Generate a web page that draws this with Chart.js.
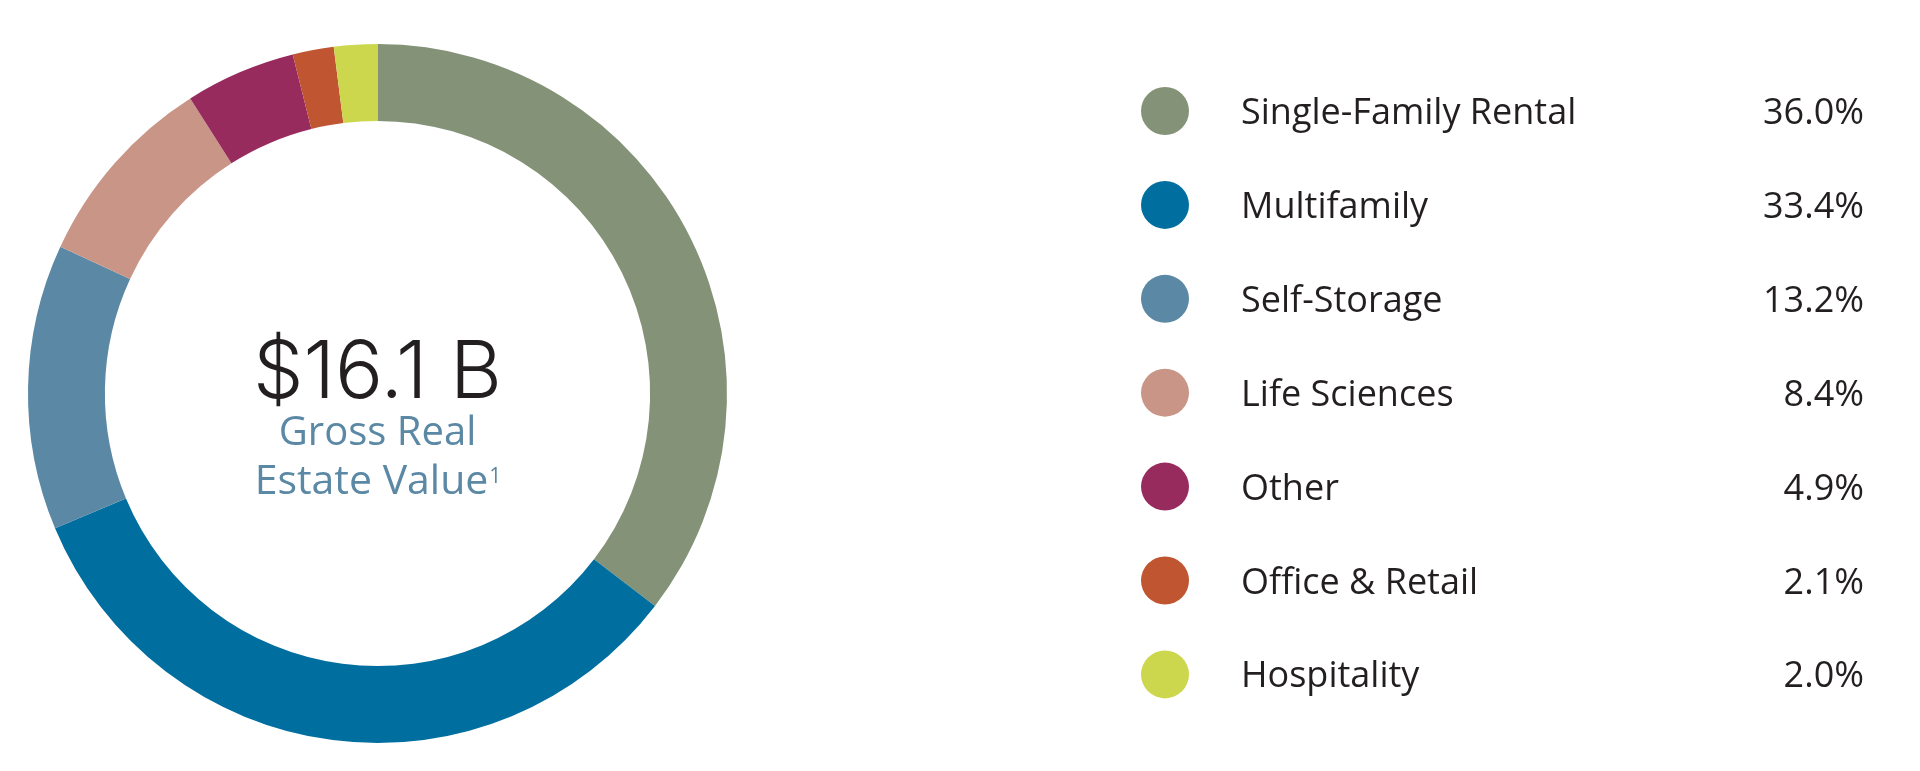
<!DOCTYPE html>
<html>
<head>
<meta charset="utf-8">
<script src="https://cdn.jsdelivr.net/npm/chart.js"></script>
<style>
  html, body { margin: 0; padding: 0; background: #fff; }
  #wrap { width: 1920px; height: 771px; position: relative; }
</style>
</head>
<body>
<div id="wrap"><canvas id="myChart"></canvas></div>
<script>
// chart data
var categories = ['Single-Family Rental', 'Multifamily', 'Self-Storage', 'Life Sciences', 'Other', 'Office & Retail', 'Hospitality'];
// percentages printed in the legend
var shareLabels = ['36.0%', '33.4%', '13.2%', '8.4%', '4.9%', '2.1%', '2.0%'];
var sliceValues = [35.4, 33.3, 13.2, 9.1, 5.1, 1.9, 2.0];
var sliceColors = ['#849277', '#006e9e', '#5b88a4', '#c89587', '#982b5e', '#bf5531', '#ccd74d'];
var centerValue = '$16.1 B';
var centerLabel = ['Gross Real', 'Estate Value'];

// center text + legend drawn on the canvas
var extras = {
  id: 'extras',
  afterDraw: function (chart) {
    var c = chart.ctx;
    var arc = chart.getDatasetMeta(0).data[0];
    var cx = arc.x;
    c.save();
    c.textAlign = 'center';
    c.textBaseline = 'alphabetic';
    c.fillStyle = '#231f20';
    c.font = '300 80px Inter';
    c.fillText(centerValue, cx, 398);
    c.fillStyle = '#5b88a4';
    c.font = '40px "Open Sans"';
    c.fillText(centerLabel[0], cx, 445);
    c.font = '41px "Open Sans"';
    var w = c.measureText(centerLabel[1]).width;
    c.fillText(centerLabel[1], cx - 6, 494);
    c.font = '21px "Open Sans"';
    c.textAlign = 'left';
    c.fillText('1', cx - 6 + w / 2 + 1, 483);

    // legend
    var top = 111, step = 93.9;
    c.font = '36px "Open Sans"';
    for (var i = 0; i < categories.length; i++) {
      var y = top + i * step;
      c.beginPath();
      c.arc(1165, y, 24, 0, Math.PI * 2);
      c.fillStyle = sliceColors[i];
      c.fill();
      c.fillStyle = '#231f20';
      c.textAlign = 'left';
      c.fillText(categories[i], 1241, y + 13);
      c.textAlign = 'right';
      c.fillText(shareLabels[i], 1864, y + 13);
    }
    c.restore();
  }
};

var ctx = document.getElementById('myChart').getContext('2d');
var myChart = new Chart(ctx, {
  type: 'doughnut',
  data: {
    labels: categories,
    datasets: [{
      data: sliceValues,
      backgroundColor: sliceColors,
      borderWidth: 0
    }]
  },
  options: {
    responsive: true,
    maintainAspectRatio: false,
    animation: false,
    cutout: '78%',
    layout: { padding: { left: 28, right: 1193, top: 44, bottom: 28 } },
    plugins: {
      legend: { display: false },
      tooltip: { enabled: false }
    }
  },
  plugins: [extras]
});
</script>
</body>
</html>
